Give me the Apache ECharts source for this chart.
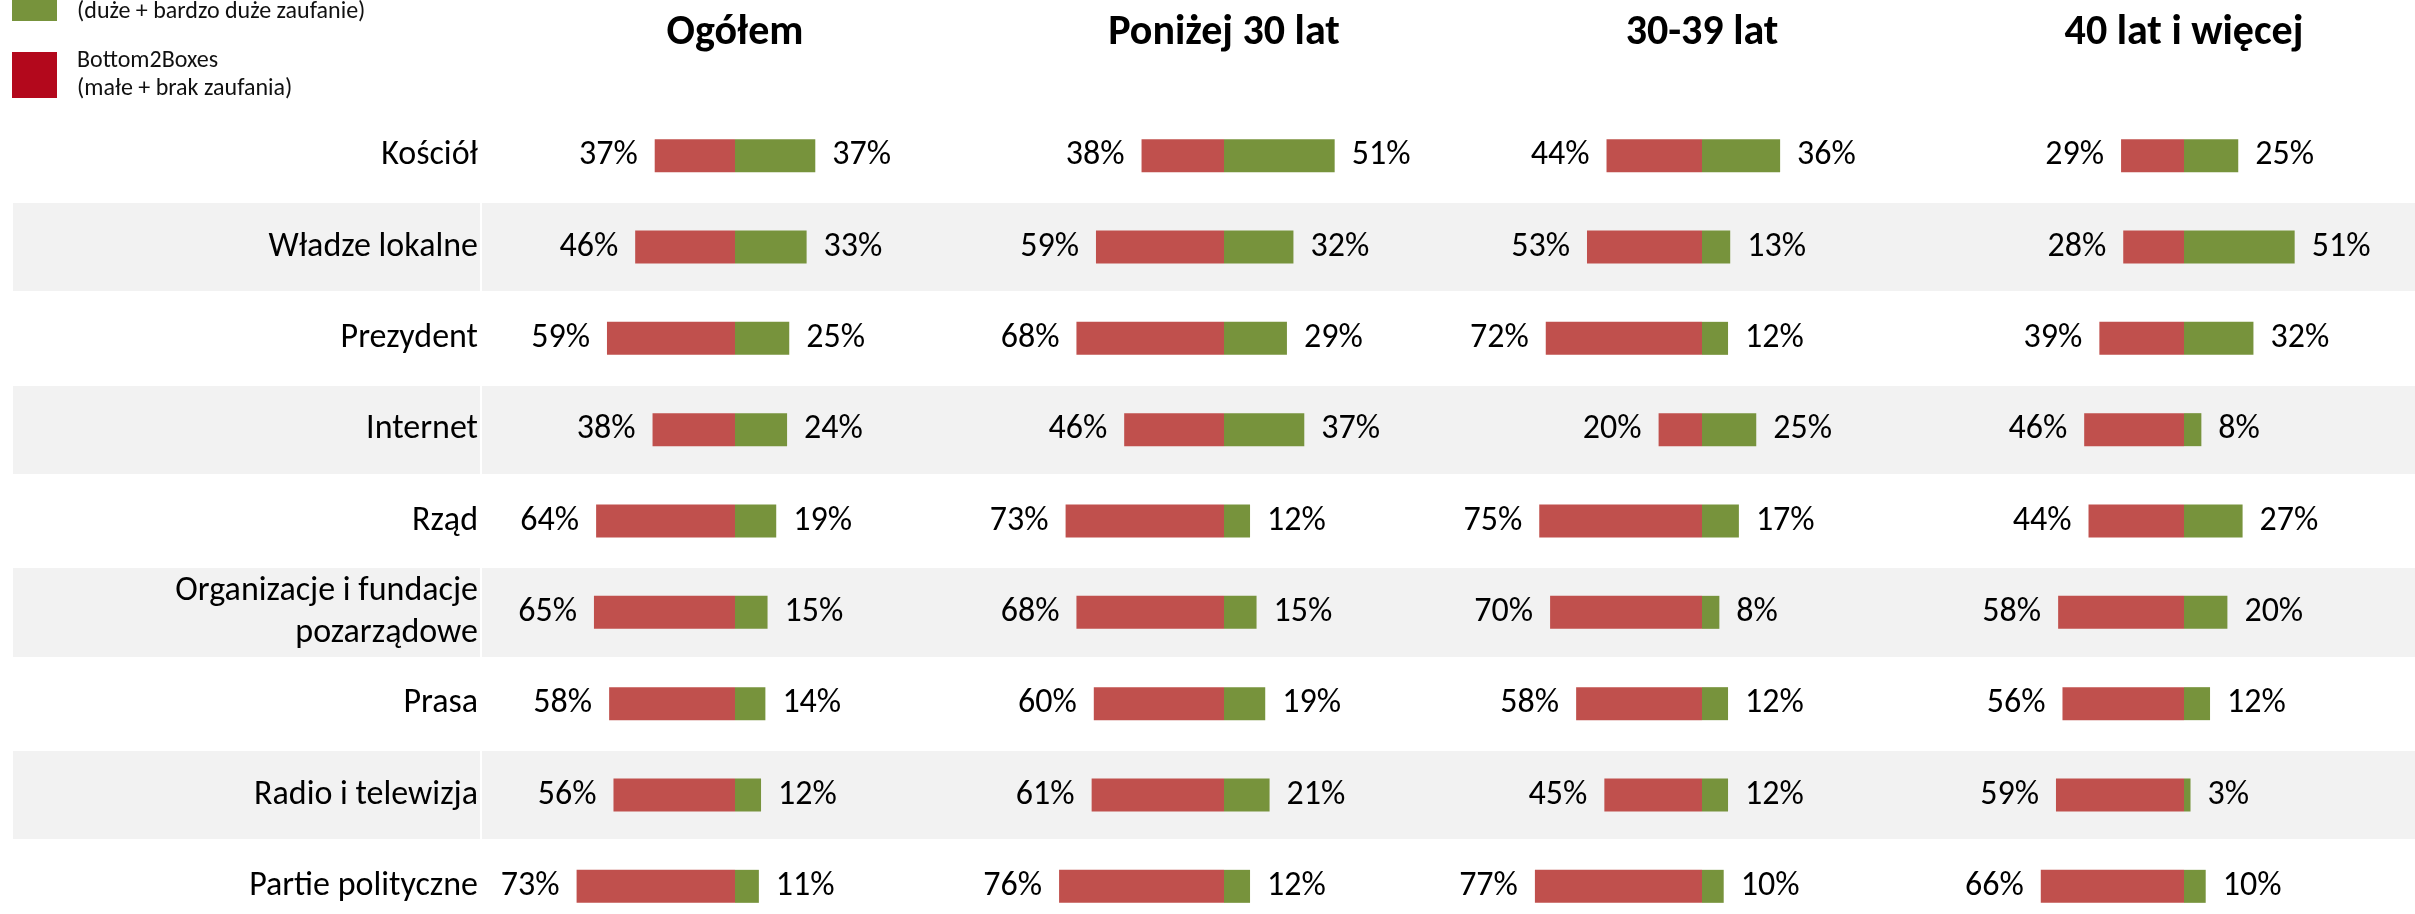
<!DOCTYPE html>
<html>
<head>
<meta charset="utf-8">
<title>Zaufanie do instytucji</title>
<script src="https://cdn.jsdelivr.net/npm/echarts@6/dist/echarts.min.js"></script>
<style>
  html, body { margin: 0; padding: 0; background: #fff; }
  #main { width: 2415px; height: 914px; }
</style>
</head>
<body>
<div id="main"></div>
<script>
// dane
const categories = [
  "Kościół",
  "Władze lokalne",
  "Prezydent",
  "Internet",
  "Rząd",
  "Organizacje i fundacje\npozarządowe",
  "Prasa",
  "Radio i telewizja",
  "Partie polityczne",
];
const groups = ["Ogółem", "Poniżej 30 lat", "30-39 lat", "40 lat i więcej"];

// Bottom2Boxes (małe + brak zaufania)
const bottomOgolem = [37, 46, 59, 38, 64, 65, 58, 56, 73];
const bottomPonizej30 = [38, 59, 68, 46, 73, 68, 60, 61, 76];
const bottom3039 = [44, 53, 72, 20, 75, 70, 58, 45, 77];
const bottom40plus = [29, 28, 39, 46, 44, 58, 56, 59, 66];

// Top2Boxes (duże + bardzo duże zaufanie)
const topOgolem = [37, 33, 25, 24, 19, 15, 14, 12, 11];
const topPonizej30 = [51, 32, 29, 37, 12, 15, 19, 21, 12];
const top3039 = [36, 13, 12, 25, 17, 8, 12, 12, 10];
const top40plus = [25, 51, 32, 8, 27, 20, 12, 3, 10];

const bottomValues = [bottomOgolem, bottomPonizej30, bottom3039, bottom40plus];
const topValues = [topOgolem, topPonizej30, top3039, top40plus];

const topName = "Top2Boxes\n(duże + bardzo duże zaufanie)";
const bottomName = "Bottom2Boxes\n(małe + brak zaufania)";

const FONT = "Carlito, Lato, 'Liberation Sans Narrow', 'Noto Sans', sans-serif";
const RED = "#C0504D";
const GREEN = "#77933C";

// uklad
const centers = [735, 1224, 1702, 2184];
const half = 217;
const gridTop = 110;
const gridHeight = 822;

const grids = [];
const xAxes = [];
const yAxes = [];
const series = [];

// tlo: paski wierszy (etykiety + wykres)
const bgBoxes = [
  { left: 13, width: 467 },
  { left: 482, width: 2415 - 482 },
];
bgBoxes.forEach((b) => {
  const idx = grids.length;
  grids.push({ left: b.left, width: b.width, top: gridTop, height: gridHeight, outerBoundsMode: "none", containLabel: false });
  xAxes.push({ type: "value", gridIndex: idx, show: false, min: 0, max: 1 });
  yAxes.push({
    type: "category",
    gridIndex: idx,
    data: categories,
    inverse: true,
    axisLine: { show: false },
    axisTick: { show: false },
    axisLabel: { show: false },
    splitArea: { show: true, areaStyle: { color: ["#ffffff", "#F2F2F2"] } },
    splitLine: { show: true, lineStyle: { color: "#ffffff", width: 3 } },
  });
});

groups.forEach((g, i) => {
  const idx = grids.length;
  grids.push({ left: centers[i] - half, width: half * 2, top: gridTop, height: gridHeight, outerBoundsMode: "none", containLabel: false });
  xAxes.push({ type: "value", gridIndex: idx, min: -100, max: 100, show: false });
  yAxes.push({
    type: "category",
    gridIndex: idx,
    data: categories,
    inverse: true,
    axisLine: { show: false },
    axisTick: { show: false },
    splitLine: { show: false },
    axisLabel: {
      show: i === 0,
      margin: 40,
      fontSize: 34,
      lineHeight: 42,
      color: "#000",
      fontFamily: FONT,
      align: "right",
    },
  });
  const labelCommon = {
    show: true,
    distance: 17,
    fontSize: 34,
    color: "#000",
    fontFamily: FONT,
    formatter: (p) => Math.abs(p.value) + "%",
  };
  series.push({
    name: bottomName,
    type: "bar",
    xAxisIndex: idx,
    yAxisIndex: idx,
    stack: "s" + i,
    barWidth: 33,
    data: bottomValues[i].map((v) => -v),
    itemStyle: { color: RED },
    label: Object.assign({ position: "left" }, labelCommon),
  });
  series.push({
    name: topName,
    type: "bar",
    xAxisIndex: idx,
    yAxisIndex: idx,
    stack: "s" + i,
    barWidth: 33,
    data: topValues[i],
    itemStyle: { color: GREEN },
    label: Object.assign({ position: "right" }, labelCommon),
  });
});

const option = {
  animation: false,
  backgroundColor: "#fff",
  title: groups.map((g, i) => ({
    text: g,
    left: centers[i],
    top: 12,
    textAlign: "center",
    padding: 0,
    textStyle: { fontSize: 42, fontWeight: "bold", color: "#000", fontFamily: FONT, lineHeight: 42 },
  })),
  legend: {
    orient: "vertical",
    left: 12,
    top: -30,
    padding: 0,
    icon: "rect",
    itemWidth: 45,
    itemHeight: 46,
    itemGap: 21,
    selectedMode: false,
    data: [
      { name: topName, itemStyle: { color: GREEN } },
      { name: bottomName, itemStyle: { color: "#B3081C" } },
    ],
    formatter: (name) => name.split("\n").map((l) => "{t|" + l + "}").join("\n"),
    textStyle: {
      color: "#111",
      fontFamily: FONT,
      fontSize: 24,
      lineHeight: 28,
      rich: {
        t: { fontSize: 24, lineHeight: 28, color: "#111", fontFamily: FONT, padding: [0, 0, 0, 15] },
      },
    },
  },
  grid: grids,
  xAxis: xAxes,
  yAxis: yAxes,
  series: series,
};

const chart = echarts.init(document.getElementById("main"));
chart.setOption(option);
</script>
</body>
</html>
